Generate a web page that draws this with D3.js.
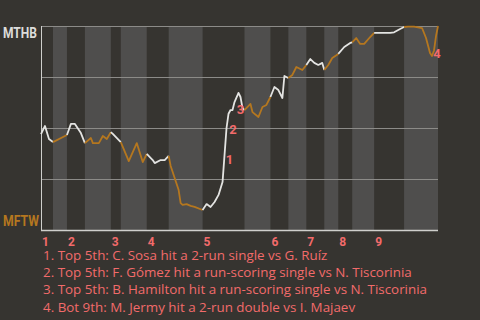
<!DOCTYPE html>
<html lang="en">
<head>
<meta charset="UTF-8">
<title>Win probability</title>
<style>
  body{margin:0;background:#363430;}
  svg{display:block;}
</style>
</head>
<body>
<svg width="480" height="320"></svg>
<script src="https://cdn.jsdelivr.net/npm/d3@7"></script>
<script>
  // data
  var halfStarts = [0, 6, 13, 22, 35, 40, 53, 64, 81, 102, 115, 124, 133, 142, 149, 156, 167, 182, 199];
  var innings = ['1', '2', '3', '4', '5', '6', '7', '8', '9'];
  var events = [0, 2, 4, 6, 13, 15, 17, 20, 22, 25, 26, 29, 31, 33, 35, 36, 40, 44, 48, 51, 53, 56, 57, 60, 62, 64,
    65, 67, 69, 70, 71, 73, 75, 77, 81, 83, 85, 87, 89, 91, 92, 93, 94, 95, 96, 97, 99, 100, 101, 102,
    105, 106, 109, 111, 113, 115, 117, 119, 121, 122, 124, 126, 128, 131, 133, 135, 137, 139, 141, 142,
    144, 146, 149, 152, 155, 156, 158, 160, 162, 165, 167, 168, 172, 175, 177, 180, 182, 184, 187, 191,
    193, 195, 196, 197, 198, 199];
  var wp = [47, 51, 44.6, 43.1, 46.6, 52, 52, 47.5, 42.6, 45.1, 42.6, 42.6, 46.1, 44.6, 48, 47.1, 43.1, 33.8, 42.6, 33.3, 37.3, 34.3, 32.8, 34.3, 34.3, 36.3,
    31.4, 25.5, 19.6, 13.2, 12.3, 12.7, 11.8, 11.3, 9.8, 12.7, 11.3, 13.7, 17.2, 23.5, 36.8, 50, 57, 58.8, 58.8, 62.7, 67.2, 65.2, 59.8, 58.8,
    61.8, 57.8, 55.4, 60.3, 61.3, 65.2, 70.1, 68.6, 64.7, 75.5, 74.5, 76, 79.9, 78.4, 80.9, 83.8, 81.9, 80.9, 81.9, 78.4,
    80.9, 84.3, 86.3, 89.7, 91.7, 92, 94.1, 91.2, 91.2, 94.6, 96.6, 96.6, 96.6, 96.6, 96.9, 98.5, 99.5, 99.7, 99.7, 99,
    94.1, 86.8, 85.3, 88, 95, 100];
  var noteEvents = [92, 93, 101, 196];
  var notes = [
    '1. Top 5th: C. Sosa hit a 2-run single vs G. Ruíz',
    '2. Top 5th: F. Gómez hit a run-scoring single vs N. Tiscorinia',
    '3. Top 5th: B. Hamilton hit a run-scoring single vs N. Tiscorinia',
    '4. Bot 9th: M. Jermy hit a 2-run double vs I. Majaev'
  ];
  var teams = ['MTHB', 'MFTW'];

  var svg = d3.select('svg');
  var margin = {top: 26, left: 41, right: 42, bottom: 90};
  var width = +svg.attr('width') - margin.left - margin.right;
  var height = +svg.attr('height') - margin.top - margin.bottom;
  var red = '#f26b6b';

  svg.append('rect').attr('width', 480).attr('height', 320).attr('fill', '#363430');

  var x = d3.scaleLinear().domain([0, d3.max(halfStarts)]).range([0, width]);
  var y = d3.scaleLinear().domain([0, 100]).range([height, 0]);

  var g = svg.append('g').attr('transform', `translate(${margin.left}, ${margin.top})`);

  // half-inning bands (bottom halves shaded)
  var halves = d3.pairs(halfStarts).map(function (p, i) { return {start: p[0], end: p[1], bottom: i % 2 === 1}; });
  g.append('g').selectAll('rect').data(halves.filter(function (d) { return d.bottom; })).enter().append('rect')
    .attr('x', function (d) { return x(d.start); })
    .attr('width', function (d) { return x(d.end) - x(d.start); })
    .attr('y', 0).attr('height', height)
    .attr('fill', '#4f4e4d');

  // gridlines
  g.append('g').selectAll('line').data([25, 50, 75, 100]).enter().append('line')
    .attr('x1', 0).attr('x2', width)
    .attr('y1', function (d) { return Math.round(y(d)) + 0.5; })
    .attr('y2', function (d) { return Math.round(y(d)) + 0.5; })
    .attr('stroke', '#8c8b88').attr('stroke-width', 1);

  // axes lines
  g.append('line').attr('x1', 0.5).attr('x2', 0.5).attr('y1', 0).attr('y2', height + 1)
    .attr('stroke', '#cfcfcc').attr('stroke-width', 1);
  g.append('line').attr('x1', 0).attr('x2', width).attr('y1', height + 0.5).attr('y2', height + 0.5)
    .attr('stroke', '#cfcfcc').attr('stroke-width', 1.5);

  // win probability line, coloured by half-inning
  var points = events.map(function (e, i) { return {e: e, v: wp[i]}; });
  var line = d3.line().x(function (d) { return x(d.e); }).y(function (d) { return y(d.v); });
  g.append('g').selectAll('path').data(halves).enter().append('path')
    .attr('d', function (h) {
      return line(points.filter(function (p) { return p.e >= h.start && p.e <= h.end; }));
    })
    .attr('fill', 'none')
    .attr('stroke', function (h) { return h.bottom ? '#b5771f' : '#e4e4e2'; })
    .attr('stroke-width', 1.8)
    .attr('stroke-linejoin', 'round');

  // event markers
  var offsets = [[5, 5], [6.5, 1], [-2, 1], [5, -3]];
  g.append('g').selectAll('text').data(noteEvents).enter().append('text')
    .attr('x', function (d, i) { return x(d) + offsets[i][0]; })
    .attr('y', function (d, i) { return y(wp[events.indexOf(d)]) + offsets[i][1]; })
    .attr('dy', '0.35em')
    .attr('text-anchor', 'middle')
    .attr('font-family', 'Roboto, sans-serif').attr('font-weight', 'bold').attr('font-size', 13)
    .attr('fill', red)
    .text(function (d, i) { return i + 1; });

  // inning labels
  g.append('g').selectAll('text').data(innings).enter().append('text')
    .attr('x', function (d, i) { return x(halfStarts[i * 2]) + 1; })
    .attr('y', height + 15.5)
    .attr('font-family', 'Roboto, sans-serif').attr('font-weight', 'bold').attr('font-size', 12)
    .attr('fill', red)
    .text(function (d) { return d; });

  // team labels
  var tl = svg.append('g').selectAll('text').data(teams).enter().append('text')
    .attr('x', 3)
    .attr('y', function (d, i) { return i === 0 ? 38 : 226; })
    .attr('font-family', 'Roboto, sans-serif').attr('font-weight', 'bold').attr('font-size', 14)
    .attr('fill', function (d, i) { return i === 0 ? '#dcdcda' : '#b5771f'; })
    .text(function (d) { return d; });
  tl.attr('textLength', function (d, i) { return i === 0 ? 34 : 36; }).attr('lengthAdjust', 'spacingAndGlyphs');

  // footnotes
  var ft = svg.append('g').selectAll('text').data(notes).enter().append('text')
    .attr('x', 43)
    .attr('y', function (d, i) { return 260 + i * 17.2; })
    .attr('font-family', '"Open Sans", sans-serif').attr('font-size', 13.5)
    .attr('fill', red)
    .text(function (d) { return d; });
  var ref = ft.nodes()[2].getComputedTextLength();
  var k = 384 / ref;
  if (k < 1) {
    ft.each(function () {
      d3.select(this).attr('textLength', this.getComputedTextLength() * k).attr('lengthAdjust', 'spacingAndGlyphs');
    });
  }
</script>
</body>
</html>
